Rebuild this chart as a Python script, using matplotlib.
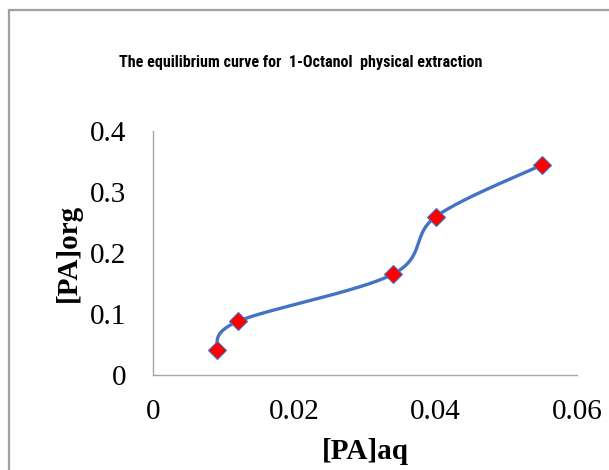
import numpy as np
import matplotlib
matplotlib.use("Agg")
import matplotlib.pyplot as plt
from matplotlib.patches import Rectangle

# Equilibrium data: aqueous vs organic phase acid concentration
pa_aq = [0.009, 0.012, 0.034, 0.040, 0.055]
pa_org = [0.041, 0.088, 0.166, 0.260, 0.345]

x_ticks = [0, 0.02, 0.04, 0.06]
y_ticks = [0, 0.1, 0.2, 0.3, 0.4]

LINE_BLUE = "#4472C4"
AXIS_GREY = "#A6A6A6"
SERIF = ["Liberation Serif", "DejaVu Serif"]
NARROW = ["Liberation Sans Narrow", "Roboto Condensed", "Liberation Sans"]

fig = plt.figure(figsize=(6.09, 4.70), dpi=100)
fig.patch.set_facecolor("white")

# outer chart frame
fig.patches.append(Rectangle((8.5 / 609, -0.2), 1.2, (470 - 9.5) / 470 + 0.2,
                             transform=fig.transFigure, fill=False,
                             edgecolor="#A0A0A0", linewidth=1.6))

ax = fig.add_axes([153 / 609, 95 / 470, 424 / 609, 243.5 / 470])
ax.set_xlim(0, 0.06)
ax.set_ylim(0, 0.4)


def smooth_curve(xs, ys, n=60):
    """Bezier smoothing through the points (Catmull-Rom style, tension 1/6),
    computed in display space so the shape follows the drawn scale."""
    pts = ax.transData.transform(np.column_stack([xs, ys]))
    p = np.vstack([pts[0], pts, pts[-1]])
    out = []
    for i in range(1, len(p) - 2):
        p0, p1, p2, p3 = p[i - 1], p[i], p[i + 1], p[i + 2]
        c1 = p1 + (p2 - p0) / 6.0
        c2 = p2 - (p3 - p1) / 6.0
        t = np.linspace(0, 1, n)[:, None]
        seg = ((1 - t) ** 3) * p1 + 3 * ((1 - t) ** 2) * t * c1 \
            + 3 * (1 - t) * t ** 2 * c2 + t ** 3 * p2
        out.append(seg)
    curve = np.vstack(out)
    data = ax.transData.inverted().transform(curve)
    return data[:, 0], data[:, 1]


cx, cy = smooth_curve(pa_aq, pa_org)
ax.plot(cx, cy, color=LINE_BLUE, linewidth=2.4, solid_capstyle="round", zorder=2)
ax.plot(pa_aq, pa_org, linestyle="none", marker="D", markersize=9.5,
        markerfacecolor="red", markeredgecolor=LINE_BLUE, markeredgewidth=0.8,
        zorder=3)

ax.set_xticks(x_ticks)
ax.set_xticklabels(["0", "0.02", "0.04", "0.06"])
ax.set_yticks(y_ticks)
ax.set_yticklabels(["0", "0.1", "0.2", "0.3", "0.4"])
ax.tick_params(length=0, labelsize=21, colors="black")
ax.tick_params(axis="y", pad=19)
ax.tick_params(axis="x", pad=17)
for lab in ax.get_xticklabels() + ax.get_yticklabels():
    lab.set_fontfamily(SERIF)

for side in ("top", "right"):
    ax.spines[side].set_visible(False)
for side in ("left", "bottom"):
    ax.spines[side].set_color(AXIS_GREY)
    ax.spines[side].set_linewidth(1.0)

ax.set_xlabel("[PA]aq", fontsize=21, fontweight="bold", fontfamily=SERIF)
ax.set_ylabel("[PA]org", fontsize=21, fontweight="bold", fontfamily=SERIF)
ax.xaxis.set_label_coords(0.5, -0.316)
ax.xaxis.label.set_va("center")
ax.yaxis.set_label_coords(-0.2, 0.5)
ax.yaxis.label.set_va("center")

fig.text(301 / 609, 1 - 63 / 470,
         "The equilibrium curve for  1-Octanol  physical extraction",
         ha="center", va="center", fontsize=11.6, fontweight="bold",
         family=NARROW)

fig.savefig("out.png", dpi=100, facecolor="white")
